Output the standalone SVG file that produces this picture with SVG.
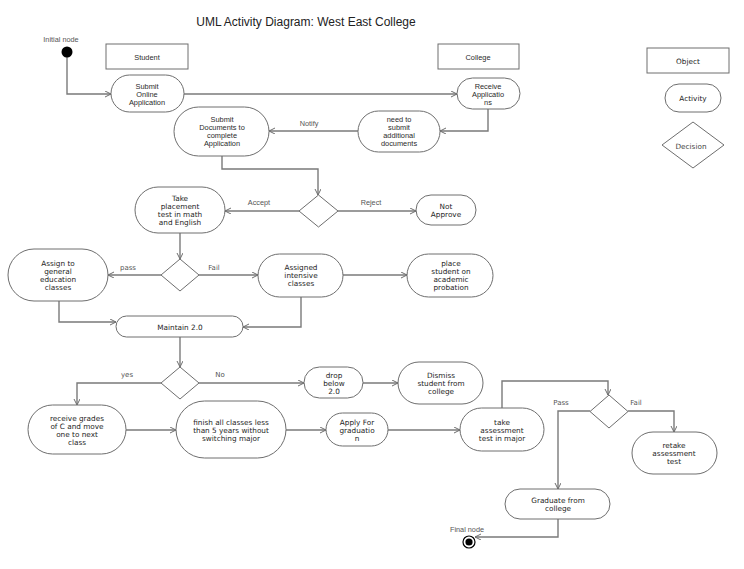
<svg xmlns="http://www.w3.org/2000/svg" width="744" height="569" viewBox="0 0 744 569">
<style>
.n{fill:#fff;stroke:#6e6e6e;stroke-width:1}
.c{fill:none;stroke:#7a7a7a;stroke-width:1.4}
.t{font-family:"DejaVu Sans",Verdana,sans-serif;font-size:7.3px;fill:#1e1e1e;text-anchor:middle;dominant-baseline:central}
.a{font-family:"Liberation Sans",Arial,sans-serif;font-size:7.4px;fill:#2a2a2a;text-anchor:middle;dominant-baseline:central}
.l{font-family:"Liberation Sans",Arial,sans-serif;font-size:7.3px;fill:#555;text-anchor:middle;dominant-baseline:central}
.ld{font-family:"DejaVu Sans",Verdana,sans-serif;font-size:7px;fill:#555;text-anchor:middle;dominant-baseline:central}
</style>
<defs>
<marker id="arr" markerWidth="8" markerHeight="8" refX="6" refY="3" orient="auto" markerUnits="userSpaceOnUse">
<path d="M0,0 L6,3 L0,6" fill="none" stroke="#6e6e6e" stroke-width="1"/>
</marker>
</defs>
<rect width="744" height="569" fill="#fff"/>
<text x="306" y="22" font-family="Liberation Sans,Arial,sans-serif" font-size="12" fill="#222" text-anchor="middle" dominant-baseline="central">UML Activity Diagram: West East College</text>

<g id="connectors">
<path class="c" d="M67,57 V94 H111" marker-end="url(#arr)"/>
<path class="c" d="M184,94 H457" marker-end="url(#arr)"/>
<path class="c" d="M488,109 V131 H440" marker-end="url(#arr)"/>
<path class="c" d="M358,131 H269" marker-end="url(#arr)"/>
<text class="l" x="309" y="123">Notify</text>
<path class="c" d="M222,156 V169 H318 V195" marker-end="url(#arr)"/>
<path class="c" d="M299,211 H225" marker-end="url(#arr)"/>
<text class="l" x="259" y="202">Accept</text>
<path class="c" d="M338,211 H416" marker-end="url(#arr)"/>
<text class="l" x="371" y="202">Reject</text>
<path class="c" d="M180,233 V259" marker-end="url(#arr)"/>
<path class="c" d="M161,275 H108" marker-end="url(#arr)"/>
<text class="ld" x="128" y="268">pass</text>
<path class="c" d="M199,275 H258" marker-end="url(#arr)"/>
<text class="ld" x="214" y="268">Fail</text>
<path class="c" d="M343,275 H407" marker-end="url(#arr)"/>
<path class="c" d="M59,301 V322 H116" marker-end="url(#arr)"/>
<path class="c" d="M301,297 V327 H243" marker-end="url(#arr)"/>
<path class="c" d="M180,337 V367" marker-end="url(#arr)"/>
<path class="c" d="M161,383 H77 V405" marker-end="url(#arr)"/>
<text class="ld" x="127" y="375">yes</text>
<path class="c" d="M199,383 H304" marker-end="url(#arr)"/>
<text class="ld" x="220" y="375">No</text>
<path class="c" d="M363,383 H398" marker-end="url(#arr)"/>
<path class="c" d="M126,430 H176" marker-end="url(#arr)"/>
<path class="c" d="M286,430 H326" marker-end="url(#arr)"/>
<path class="c" d="M388,430 H460" marker-end="url(#arr)"/>
<path class="c" d="M502,408 V381 H608 V395" marker-end="url(#arr)"/>
<path class="c" d="M590,411 H558 V489" marker-end="url(#arr)"/>
<text class="ld" x="561" y="403">Pass</text>
<path class="c" d="M628,411 H674 V432" marker-end="url(#arr)"/>
<text class="ld" x="636" y="403">Fail</text>
<path class="c" d="M558,519 V537 H475" marker-end="url(#arr)"/>
</g>

<g id="initial">
<circle cx="67" cy="52" r="5.5" fill="#000"/>
<text class="l" x="61" y="39" font-size="7">Initial node</text>
</g>
<g id="student">
<rect class="n" x="106" y="44" width="82" height="25"/>
<text class="a" x="147" y="57">Student</text>
</g>
<g id="college">
<rect class="n" x="438" y="44" width="81" height="25"/>
<text class="a" x="478" y="57">College</text>
</g>
<g id="submit-online">
<rect class="n" x="111" y="75" width="73" height="37" rx="18.5"/>
<text class="a" x="147"><tspan x="147" y="86">Submit</tspan><tspan x="147" y="94">Online</tspan><tspan x="147" y="102">Application</tspan></text>
</g>
<g id="receive">
<rect class="n" x="457" y="78" width="63" height="31" rx="15.5"/>
<text class="a" x="488"><tspan x="488" y="86">Receive</tspan><tspan x="488" y="94">Applicatio</tspan><tspan x="488" y="102">ns</tspan></text>
</g>
<g id="need-submit">
<rect class="n" x="358" y="111" width="82" height="41" rx="20.5"/>
<text class="a" x="399"><tspan x="399" y="119">need to</tspan><tspan x="399" y="127">submit</tspan><tspan x="399" y="135">additional</tspan><tspan x="399" y="143">documents</tspan></text>
</g>
<g id="submit-docs">
<rect class="n" x="174" y="107" width="95" height="49" rx="24.5"/>
<text class="a" x="222"><tspan x="222" y="119">Submit</tspan><tspan x="222" y="127">Documents to</tspan><tspan x="222" y="135">complete</tspan><tspan x="222" y="143">Application</tspan></text>
</g>
<g id="decision-accept">
<polygon class="n" points="318.5,195 338,211 318.5,227 299,211"/>
</g>
<g id="placement">
<rect class="n" x="135" y="187" width="90" height="46" rx="23"/>
<text class="t" x="180"><tspan x="180" y="198">Take</tspan><tspan x="180" y="206">placement</tspan><tspan x="180" y="214">test in math</tspan><tspan x="180" y="222">and English</tspan></text>
</g>
<g id="not-approve">
<rect class="n" x="416" y="195" width="60" height="30" rx="15"/>
<text class="t" x="446"><tspan x="446" y="206">Not</tspan><tspan x="446" y="214">Approve</tspan></text>
</g>
<g id="decision-pass">
<polygon class="n" points="180,259 199,275 180,291 161,275"/>
</g>
<g id="general">
<rect class="n" x="8" y="249" width="100" height="52" rx="26"/>
<text class="t" x="58"><tspan x="58" y="263">Assign to</tspan><tspan x="58" y="271">general</tspan><tspan x="58" y="279">education</tspan><tspan x="58" y="287">classes</tspan></text>
</g>
<g id="intensive">
<rect class="n" x="258" y="254" width="85" height="43" rx="21.5"/>
<text class="t" x="301"><tspan x="301" y="267">Assigned</tspan><tspan x="301" y="275">intensive</tspan><tspan x="301" y="283">classes</tspan></text>
</g>
<g id="probation">
<rect class="n" x="407" y="254" width="86" height="43" rx="21.5"/>
<text class="t" x="451"><tspan x="451" y="263">place</tspan><tspan x="451" y="271">student on</tspan><tspan x="451" y="279">academic</tspan><tspan x="451" y="287">probation</tspan></text>
</g>
<g id="maintain">
<rect class="n" x="116" y="316" width="127" height="21" rx="10.5"/>
<text class="t" x="180" y="327">Maintain 2.0</text>
</g>
<g id="decision-gpa">
<polygon class="n" points="180,367 199,383 180,399 161,383"/>
</g>
<g id="drop">
<rect class="n" x="304" y="367" width="59" height="31" rx="15.5"/>
<text class="t" x="334"><tspan x="334" y="375">drop</tspan><tspan x="334" y="383">below</tspan><tspan x="334" y="391">2.0</tspan></text>
</g>
<g id="dismiss">
<rect class="n" x="398" y="362" width="85" height="42" rx="21"/>
<text class="t" x="441"><tspan x="441" y="375">Dismiss</tspan><tspan x="441" y="383">student from</tspan><tspan x="441" y="391">college</tspan></text>
</g>
<g id="receive-grades">
<rect class="n" x="28" y="405" width="98" height="49" rx="24.5"/>
<text class="t" x="77"><tspan x="77" y="417.5">receive grades</tspan><tspan x="77" y="425.5">of C and move</tspan><tspan x="77" y="433.5">one to next</tspan><tspan x="77" y="441.5">class</tspan></text>
</g>
<g id="finish">
<rect class="n" x="176" y="401" width="110" height="57" rx="28.5"/>
<text class="t" x="231"><tspan x="231" y="422">finish all classes less</tspan><tspan x="231" y="430">than 5 years without</tspan><tspan x="231" y="438">switching major</tspan></text>
</g>
<g id="apply">
<rect class="n" x="326" y="413" width="62" height="33" rx="16.5"/>
<text class="t" x="357"><tspan x="357" y="422">Apply For</tspan><tspan x="357" y="430">graduatio</tspan><tspan x="357" y="438">n</tspan></text>
</g>
<g id="take-assessment">
<rect class="n" x="460" y="408" width="84" height="43" rx="21.5"/>
<text class="t" x="502"><tspan x="502" y="422">take</tspan><tspan x="502" y="430">assessment</tspan><tspan x="502" y="438">test in major</tspan></text>
</g>
<g id="decision-assess">
<polygon class="n" points="609,395 628,411.5 609,428 590,411.5"/>
</g>
<g id="retake">
<rect class="n" x="632" y="432" width="85" height="42" rx="21"/>
<text class="t" x="674"><tspan x="674" y="445">retake</tspan><tspan x="674" y="453">assessment</tspan><tspan x="674" y="461">test</tspan></text>
</g>
<g id="graduate">
<rect class="n" x="505" y="489" width="105" height="30" rx="15"/>
<text class="t" x="558"><tspan x="558" y="500">Graduate from</tspan><tspan x="558" y="508">college</tspan></text>
</g>
<g id="final">
<circle cx="469" cy="542" r="6" fill="#fff" stroke="#000" stroke-width="1.2"/>
<circle cx="469" cy="542" r="3.6" fill="#000"/>
<text class="l" x="467" y="529" font-size="7">Final node</text>
</g>

<g id="legend-object">
<rect class="n" x="647" y="48" width="82" height="25"/>
<text class="t" x="688" y="61">Object</text>
</g>
<g id="legend-activity">
<rect class="n" x="665" y="84" width="56" height="28" rx="14"/>
<text class="t" x="693" y="98">Activity</text>
</g>
<g id="legend-decision">
<polygon class="n" points="693,122 724,145 693,168 662,145"/>
<text class="t" x="691" y="146" style="fill:#444">Decision</text>
</g>
</svg>
